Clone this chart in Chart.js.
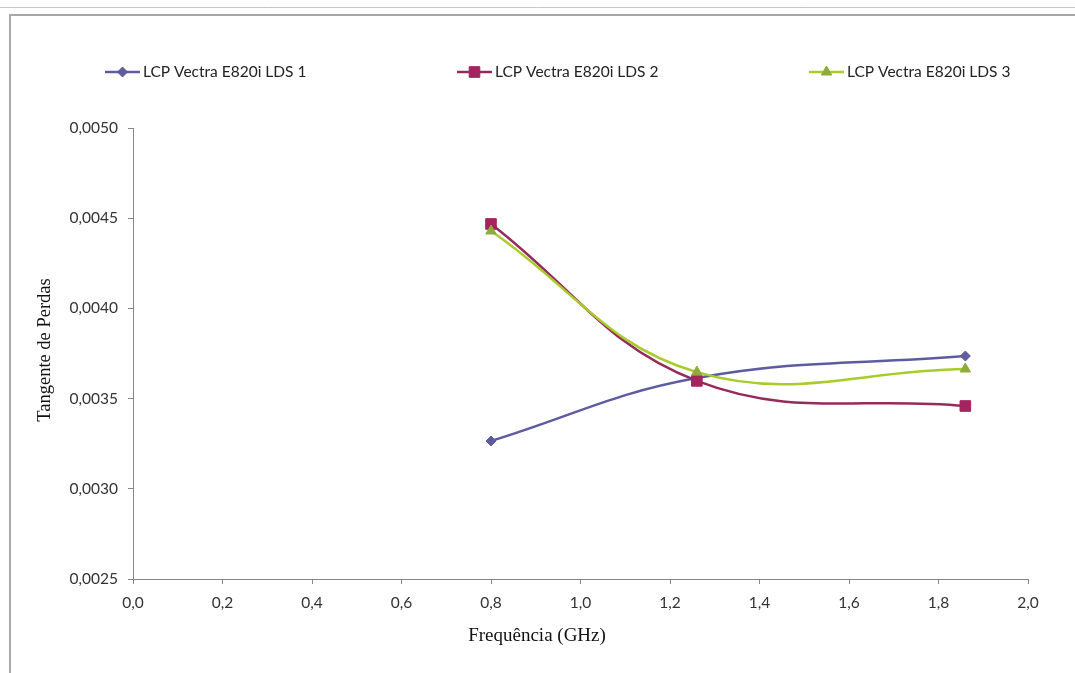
<!DOCTYPE html>
<html>
<head>
<meta charset="utf-8">
<title>Tangente de Perdas x Frequência</title>
<script src="https://cdn.jsdelivr.net/npm/chart.js@4/dist/chart.umd.min.js"></script>
<style>
  html, body { margin: 0; padding: 0; background: #fff; }
  canvas { display: block; }
</style>
</head>
<body>
<canvas id="perdas" width="1075" height="673"></canvas>
<script>
// frequências medidas (GHz)
const freqGHz = [0.80, 1.26, 1.86];

// tangente de perdas por amostra
const lds1 = [0.003265, 0.003614, 0.003736];
const lds2 = [0.004468, 0.003598, 0.003459];
const lds3 = [0.004429, 0.003647, 0.003664];

const seriesNames = ['LCP Vectra E820i LDS 1', 'LCP Vectra E820i LDS 2', 'LCP Vectra E820i LDS 3'];

const xTitle = 'Frequência (GHz)';
const yTitle = 'Tangente de Perdas';

const toPoints = vals => vals.map((v, i) => ({ x: freqGHz[i], y: v }));
const comma = (v, d) => v.toFixed(d).replace('.', ',');

const axisGray = '#868686';
const tickFont = { family: 'Lato', size: 15.5 };

// moldura da figura, legenda com linha+marcador e títulos dos eixos
const decor = {
  id: 'decor',
  beforeDraw(chart) {
    const { ctx, width, height } = chart;
    ctx.save();
    ctx.fillStyle = '#fff';
    ctx.fillRect(0, 0, width, height);
    ctx.lineWidth = 1;
    ctx.strokeStyle = '#c8c8c8';
    ctx.beginPath();
    ctx.moveTo(0, 7.5); ctx.lineTo(width, 7.5);
    ctx.stroke();
    ctx.strokeStyle = '#a8a8a8';
    ctx.lineWidth = 2;
    ctx.beginPath();
    ctx.moveTo(width, 15); ctx.lineTo(10, 15); ctx.lineTo(10, height);
    ctx.stroke();
    ctx.restore();
  },
  afterDraw(chart) {
    const { ctx } = chart;
    ctx.save();
    chart.data.datasets.forEach((ds, i) => {
      const x0 = 105 + i * 352, y = 72;
      ctx.strokeStyle = ds.borderColor;
      ctx.lineWidth = 2.5;
      ctx.beginPath();
      ctx.moveTo(x0, y); ctx.lineTo(x0 + 35, y);
      ctx.stroke();
      ctx.fillStyle = ds.pointBackgroundColor;
      ctx.strokeStyle = ds.pointBorderColor;
      ctx.lineWidth = 1;
      Chart.helpers.drawPoint(ctx, { pointStyle: ds.pointStyle, radius: ds.pointRadius, borderWidth: 1 }, x0 + 17.5, y);
      ctx.fillStyle = '#222';
      ctx.font = '15.5px Lato';
      ctx.textBaseline = 'middle';
      ctx.textAlign = 'left';
      ctx.fillText(ds.label, x0 + 38, y);
    });

    ctx.fillStyle = '#111';
    ctx.textAlign = 'center';
    ctx.textBaseline = 'middle';
    ctx.font = '19px "Liberation Serif"';
    ctx.fillText(xTitle, 537, 636);
    ctx.font = '18.5px "Liberation Serif"';
    ctx.translate(45, 350);
    ctx.rotate(-Math.PI / 2);
    ctx.fillText(yTitle, 0, 0);
    ctx.restore();
  }
};

new Chart(document.getElementById('perdas'), {
  type: 'line',
  data: {
    datasets: [
      {
        label: seriesNames[0],
        data: toPoints(lds1),
        borderColor: '#5f5ba0',
        pointBackgroundColor: '#5f5ba0',
        pointBorderColor: '#5f5ba0',
        pointStyle: 'rectRot',
        pointRadius: 5,
        order: 3
      },
      {
        label: seriesNames[1],
        data: toPoints(lds2),
        borderColor: '#952a5c',
        pointBackgroundColor: '#a3245e',
        pointBorderColor: '#a3245e',
        pointStyle: 'rect',
        pointRadius: 7.5,
        order: 2
      },
      {
        label: seriesNames[2],
        data: toPoints(lds3),
        borderColor: '#a9cc2c',
        pointBackgroundColor: '#8fab3c',
        pointBorderColor: '#8fab3c',
        pointStyle: 'triangle',
        pointRadius: 6,
        order: 1
      }
    ]
  },
  options: {
    responsive: false,
    animation: false,
    devicePixelRatio: 1,
    layout: { padding: { top: 128, right: 47, bottom: 0, left: 0 } },
    elements: {
      line: { borderWidth: 2.5, tension: 0.4, fill: false },
      point: { borderWidth: 1, hoverRadius: 6 }
    },
    plugins: {
      legend: { display: false },
      tooltip: { enabled: false }
    },
    scales: {
      x: {
        type: 'linear',
        min: 0,
        max: 2,
        afterFit(scale) { scale.height = 94; },
        ticks: {
          stepSize: 0.2,
          padding: 10,
          color: '#333',
          font: tickFont,
          maxRotation: 0,
          callback: v => comma(v, 1)
        },
        grid: { drawOnChartArea: false, drawTicks: true, tickLength: 5, color: axisGray },
        border: { color: axisGray, width: 1 }
      },
      y: {
        min: 0.0025,
        max: 0.005,
        afterFit(scale) { scale.width = 133; },
        ticks: {
          stepSize: 0.0005,
          padding: 10,
          color: '#333',
          font: tickFont,
          callback: v => comma(v, 4)
        },
        grid: { drawOnChartArea: false, drawTicks: true, tickLength: 5, color: axisGray },
        border: { color: axisGray, width: 1 }
      }
    }
  },
  plugins: [decor]
});
</script>
</body>
</html>
